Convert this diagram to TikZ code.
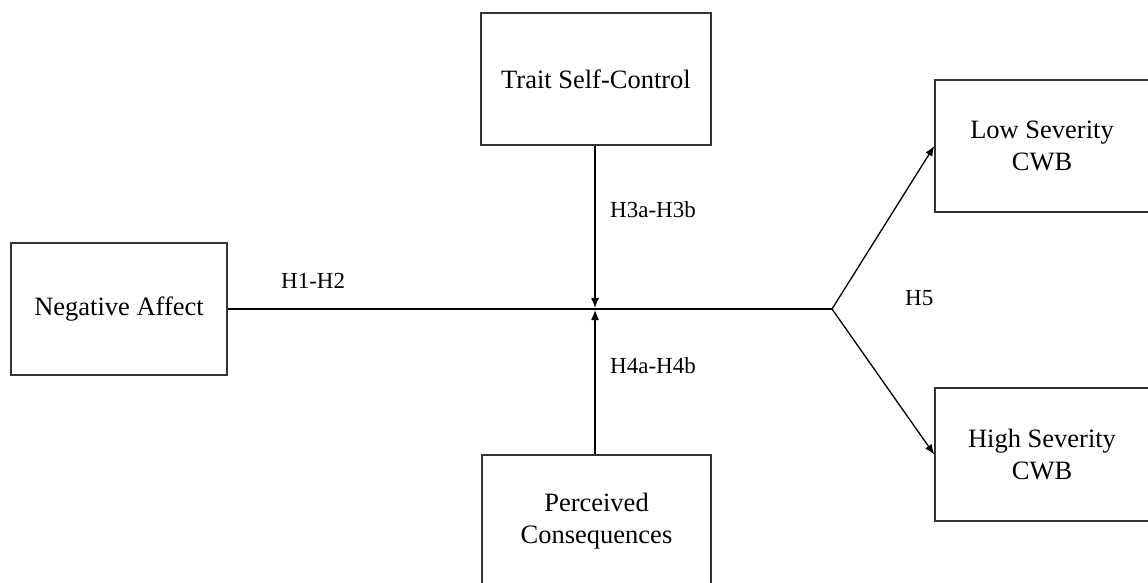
\documentclass[tikz,border=0pt]{standalone}
\usepackage{fontspec}
\setmainfont{Liberation Serif}
\usetikzlibrary{arrows.meta}
\begin{document}
\begin{tikzpicture}[x=1pt,y=-1pt,
  varbox/.style={draw=black!80,line width=1.5pt,fill=white,align=center,inner sep=0pt,
    font=\fontsize{26.5}{32}\selectfont},
  hlabel/.style={inner sep=0pt,anchor=base west,font=\fontsize{23}{28}\selectfont},
  conn/.style={line width=1.3pt,black},
  arr/.style={conn,-{Latex[length=10pt,width=8pt]}}]
\useasboundingbox (0,0) rectangle (1148,582);
\node[varbox,minimum width=216pt,minimum height=132pt] (na) at (119,309) {Negative Affect};
\node[varbox,minimum width=230pt,minimum height=132pt] (tsc) at (596,79) {Trait Self-Control};
\node[varbox,minimum width=229pt,minimum height=132pt] (pc) at (596.5,521) {Perceived\\Consequences};
\node[varbox,minimum width=214pt,minimum height=132pt] (low) at (1042,146) {Low Severity\\CWB};
\node[varbox,minimum width=214pt,minimum height=133pt] (high) at (1042,454.5) {High Severity\\CWB};
\coordinate (b) at (832,309);
\coordinate (jt) at (595,308);
\coordinate (jb) at (595,310);
\draw[conn] (na.east) -- (b);
\draw[arr] (tsc.south -| jt) -- (jt);
\draw[arr] (pc.north -| jb) -- (jb);
\draw[arr] (b) -- (low.west);
\draw[arr] (b) -- (high.west);
\node[hlabel] (l12) at (281,288) {H1-H2};
\node[hlabel] (l3) at (610,217) {H3a-H3b};
\node[hlabel] (l4) at (610,373) {H4a-H4b};
\node[hlabel] (l5) at (905,305) {H5};
\end{tikzpicture}
\end{document}
